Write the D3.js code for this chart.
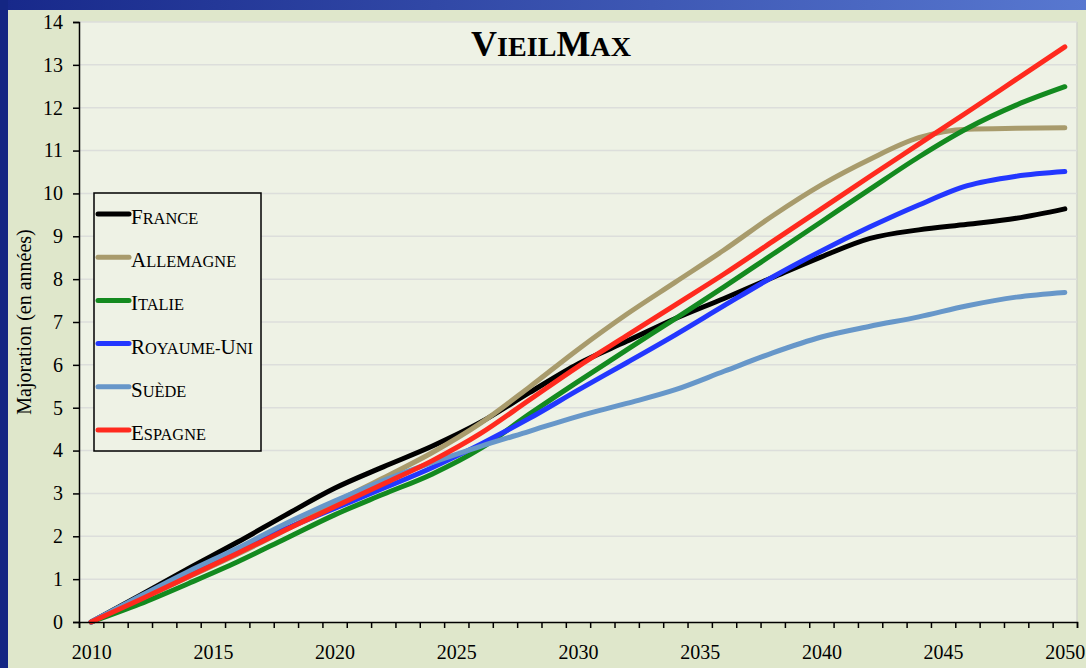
<!DOCTYPE html>
<html><head><meta charset="utf-8">
<script src="https://cdn.jsdelivr.net/npm/d3@7"></script>
<style>
html,body{margin:0;padding:0;background:#1a2d8c;}
svg{display:block;}
</style></head>
<body>
<script>
// ---- data ----
const years = [2010,2012,2014,2016,2018,2020,2022,2024,2026,2028,2030,2032,2034,2036,2038,2040,2042,2044,2046,2048,2050];
const seriesNames = ["France","Allemagne","Italie","Royaume-Uni","Suède","Espagne"];
const france     = [0,0.62,1.25,1.86,2.5,3.12,3.62,4.1,4.66,5.35,6.02,6.55,7.08,7.55,8.04,8.52,8.95,9.15,9.28,9.42,9.64];
const allemagne  = [0,0.52,1.05,1.58,2.15,2.78,3.36,3.95,4.64,5.48,6.36,7.18,7.93,8.68,9.48,10.2,10.8,11.3,11.5,11.52,11.53];
const italie     = [0,0.42,0.9,1.4,1.95,2.5,2.98,3.45,4.05,4.85,5.61,6.35,7.08,7.82,8.58,9.34,10.1,10.85,11.52,12.06,12.49];
const royaumeUni = [0,0.58,1.15,1.7,2.18,2.65,3.12,3.6,4.15,4.75,5.41,6.05,6.7,7.38,8.05,8.66,9.22,9.73,10.18,10.4,10.51];
const suede      = [0,0.6,1.18,1.72,2.3,2.82,3.3,3.72,4.1,4.45,4.8,5.1,5.42,5.85,6.28,6.65,6.9,7.12,7.38,7.58,7.69];
const espagne    = [0,0.52,1.06,1.6,2.15,2.69,3.22,3.76,4.4,5.18,5.96,6.68,7.4,8.12,8.88,9.64,10.4,11.15,11.9,12.66,13.42];
const yTicks = [0,1,2,3,4,5,6,7,8,9,10,11,12,13,14];
const xLabels = [2010,2015,2020,2025,2030,2035,2040,2045,2050];
const colors = ["#000000","#a89b6c","#138a1f","#2337ff","#6797c9","#ff2a1e"];
const title = "VieilMax";
const yTitle = "Majoration (en années)";

const seriesValues = [france,allemagne,italie,royaumeUni,suede,espagne];

const W = 1086, H = 668;
const svg = d3.select("body").append("svg").attr("width",W).attr("height",H);
const defs = svg.append("defs");
const g1 = defs.append("linearGradient").attr("id","frame").attr("x1","0").attr("x2","1").attr("y1","0").attr("y2","0");
g1.append("stop").attr("offset","0").attr("stop-color","#17288a");
g1.append("stop").attr("offset","1").attr("stop-color","#5878d0");
svg.append("rect").attr("width",W).attr("height",H).attr("fill","url(#frame)");
svg.append("rect").attr("x",0).attr("y",0).attr("width",8).attr("height",H).attr("fill","#142683");
svg.append("rect").attr("x",8).attr("y",10).attr("width",W-8).attr("height",H-10).attr("fill","#dfe7cb");

const pLeft = 79, pRight = 1077, pTop = 22, pBottom = 622;
const x = d3.scaleLinear().domain([2009.5,2050.5]).range([pLeft,pRight]);
const y = d3.scaleLinear().domain([0,14]).range([pBottom,pTop]);

svg.append("rect").attr("x",pLeft).attr("y",pTop).attr("width",pRight-pLeft).attr("height",pBottom-pTop)
  .attr("fill","#eef2e5");
svg.append("line").attr("x1",pRight).attr("x2",pRight).attr("y1",pTop).attr("y2",pBottom).attr("stroke","#d2d4cc").attr("stroke-width",1.5);

// gridlines
svg.append("g").selectAll("line").data(yTicks.filter(d=>d>0)).join("line")
  .attr("x1",pLeft).attr("x2",pRight).attr("y1",d=>y(d)).attr("y2",d=>y(d))
  .attr("stroke","#dcdedb").attr("stroke-width",1.5);

// small caps helper: uppercase letters full size, others uppercased at a smaller size
function smallCaps(textSel, str, size, ratio){
  const runs = [];
  for (const ch of str){
    const big = ch !== ch.toLowerCase() || !/\p{L}/u.test(ch) && ch !== "-";
    const last = runs[runs.length-1];
    if (last && last.big === big) last.s += ch; else runs.push({big, s: ch});
  }
  runs.forEach(r=>{
    textSel.append("tspan").attr("font-size", r.big ? size : size*ratio).text(r.s.toUpperCase());
  });
}

// title
const t = svg.append("text").attr("x",551).attr("y",56).attr("text-anchor","middle")
  .attr("font-family","Liberation Serif, serif").attr("font-weight","bold").attr("fill","#000");
smallCaps(t, title, 36, 0.78);

// lines
const line = d3.line().x((d,i)=>x(years[i])).y(d=>y(d)).curve(d3.curveMonotoneX);
svg.append("g").selectAll("path").data(seriesValues).join("path")
  .attr("d",d=>line(d)).attr("fill","none").attr("stroke",(d,i)=>colors[i])
  .attr("stroke-width",5).attr("stroke-linecap","round").attr("stroke-linejoin","round");

// y axis
const yAxis = d3.axisLeft(y).tickValues(yTicks).tickSize(6).tickPadding(10).tickFormat(d3.format("d"));
const ya = svg.append("g").attr("transform",`translate(${pLeft},0)`).call(yAxis);
ya.select(".domain").attr("stroke","#000").attr("stroke-width",1.5);
ya.selectAll(".tick line").attr("stroke","#000").attr("stroke-width",1.5);
ya.selectAll(".tick text").attr("font-family","Liberation Serif, serif").attr("font-size",20).attr("fill","#000");

// x axis: tick marks at category boundaries, labels at category centres
const boundaries = d3.range(2009.5,2051,1);
const xAxisTicks = d3.axisBottom(x).tickValues(boundaries).tickSize(6).tickFormat("");
const xa = svg.append("g").attr("transform",`translate(0,${pBottom})`).call(xAxisTicks);
xa.select(".domain").attr("stroke","#000").attr("stroke-width",1.5);
xa.selectAll(".tick line").attr("stroke","#000").attr("stroke-width",1.5);
const xLab = d3.axisBottom(x).tickValues(xLabels).tickSize(0).tickPadding(23).tickFormat(d3.format("d"));
const xl = svg.append("g").attr("transform",`translate(0,${pBottom})`).call(xLab);
xl.select(".domain").remove();
xl.selectAll(".tick text").attr("font-family","Liberation Serif, serif").attr("font-size",20).attr("fill","#000");

// y title
svg.append("text").attr("transform","translate(31,322) rotate(-90)").attr("text-anchor","middle")
  .attr("font-family","Liberation Serif, serif").attr("font-size",20).attr("fill","#000").text(yTitle);

// legend
const lg = svg.append("g");
lg.append("rect").attr("x",94).attr("y",193).attr("width",167).attr("height",258)
  .attr("fill","#eef2e5").attr("stroke","#000").attr("stroke-width",1.5);
const items = lg.selectAll("g.item").data(seriesNames).join("g").attr("class","item")
  .attr("transform",(d,i)=>`translate(0,${214+i*43.2})`);
items.append("line").attr("x1",98).attr("x2",129).attr("y1",0).attr("y2",0)
  .attr("stroke",(d,i)=>colors[i]).attr("stroke-width",5).attr("stroke-linecap","round");
items.append("text").attr("x",131).attr("y",10)
  .attr("font-family","Liberation Serif, serif").attr("fill","#000")
  .each(function(d){ smallCaps(d3.select(this), d, 21, 0.78); });
</script>
</body></html>
